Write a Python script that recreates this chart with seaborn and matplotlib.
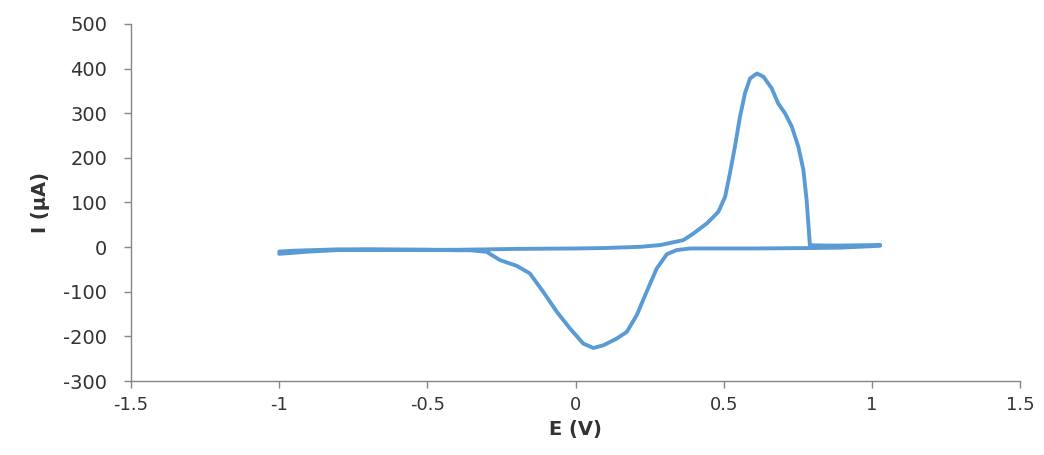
import numpy as np
import pandas as pd
import matplotlib
matplotlib.use("Agg")
import matplotlib.pyplot as plt
import seaborn as sns

# Forward (anodic) scan, E increasing
E_fwd = [-1.0, -0.95, -0.9, -0.8, -0.7, -0.6, -0.5, -0.4, -0.3, -0.2, -0.1, 0.0, 0.1, 0.218,
         0.285, 0.364, 0.398, 0.443, 0.482, 0.505, 0.521, 0.538, 0.555, 0.572, 0.589, 0.612,
         0.634, 0.662, 0.684, 0.707, 0.730, 0.752, 0.769, 0.780, 0.791, 0.81, 0.85, 0.9, 0.95,
         1.0, 1.028]
I_fwd = [-10, -8, -7, -5, -5, -5.5, -6, -6, -5, -4, -3.5, -3, -2, 0.7,
         4.5, 15.7, 30.6, 53, 79, 113, 165, 225, 292, 345, 378, 389,
         382, 356, 322, 300, 270, 225, 173, 105, 4.5, 4, 3.5, 3.5, 4,
         4.5, 5]
# Reverse (cathodic) scan, E decreasing
E_rev = [1.028, 0.9, 0.8, 0.7, 0.6, 0.5, 0.4, 0.386, 0.341, 0.308, 0.274, 0.240, 0.207, 0.173,
         0.139, 0.094, 0.060, 0.026, -0.019, -0.063, -0.109, -0.154, -0.198, -0.255, -0.30,
         -0.356, -0.4, -0.5, -0.6, -0.7, -0.8, -0.9, -1.0]
I_rev = [3, -1, -2, -2.5, -3, -3, -3, -3, -6.7, -16, -48, -100, -152, -190,
         -205, -220, -226, -216, -182, -145, -100, -59, -42, -29, -10.5,
         -7, -7, -6, -6, -6, -6.5, -10, -15]

x_ticks = [-1.5, -1, -0.5, 0, 0.5, 1, 1.5]
x_tick_labels = ["-1.5", "-1", "-0.5", "0", "0.5", "1", "1.5"]
y_ticks = [-300, -200, -100, 0, 100, 200, 300, 400, 500]
y_tick_labels = ["-300", "-200", "-100", "0", "100", "200", "300", "400", "500"]

df = pd.DataFrame({
    "E": E_fwd + E_rev,
    "I": I_fwd + I_rev,
})

sns.set_style("white")
plt.rcParams["font.family"] = ["DejaVu Sans"]
plt.rcParams["axes.unicode_minus"] = False

fig = plt.figure(figsize=(10.44, 4.55), dpi=100)
ax = fig.add_axes([0.1255, 0.1626, 0.8515, 0.7847])

sns.lineplot(data=df, x="E", y="I", sort=False, estimator=None, ax=ax,
             color="#5B9BD5", linewidth=2.8)
ax.lines[0].set_solid_joinstyle("round")
ax.lines[0].set_solid_capstyle("round")

ax.set_xlim(-1.5, 1.5)
ax.set_ylim(-300, 500)
ax.set_xticks(x_ticks)
ax.set_xticklabels(x_tick_labels)
ax.set_yticks(y_ticks)
ax.set_yticklabels(y_tick_labels)

gray = "#868686"
for s in ["top", "right"]:
    ax.spines[s].set_visible(False)
for s in ["left", "bottom"]:
    ax.spines[s].set_color(gray)
    ax.spines[s].set_linewidth(1.0)
ax.tick_params(axis="both", direction="out", length=5, width=1.0, color=gray,
               labelcolor="#333333")
ax.tick_params(axis="y", labelsize=14, pad=12, left=True)
ax.tick_params(axis="x", labelsize=13, pad=6, bottom=True)

ax.set_xlabel("E (V)", fontsize=14, fontweight="bold", color="#333333", labelpad=4)
ax.set_ylabel("I (µA)", fontsize=14, fontweight="bold", color="#333333", labelpad=10)

fig.savefig("out.png", dpi=100)
